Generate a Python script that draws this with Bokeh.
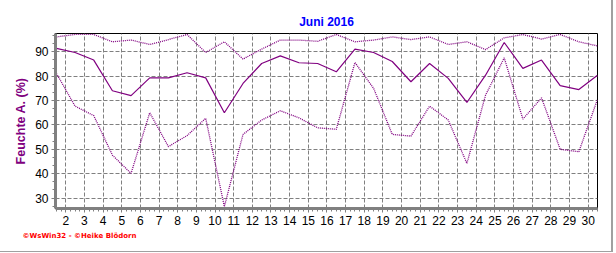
from bokeh.plotting import figure
from bokeh.models import Range1d, SingleIntervalTicker, Title, ColumnDataSource
from bokeh.embed import file_html
from bokeh.resources import INLINE

# ---- data ----
days = list(range(1, 31))
hum_mean = [91.4, 89.7, 86.6, 74.0, 72.0, 79.3, 79.3, 81.4, 79.3, 65.0,
            77.0, 85.2, 88.3, 85.5, 85.2, 81.8, 91.1, 89.7, 86.0, 77.7,
            85.2, 79.1, 69.2, 80.4, 93.8, 83.2, 86.6, 76.1, 74.5, 80.4]
hum_max = [96.1, 97.1, 97.1, 94.1, 94.8, 93.0, 95.0, 97.1, 89.7, 94.1,
           87.0, 91.1, 94.8, 94.8, 94.3, 97.1, 94.1, 94.8, 96.1, 95.0,
           96.1, 93.0, 94.1, 90.9, 95.7, 97.1, 95.2, 97.1, 94.1, 92.4]
hum_min = [81.1, 67.7, 63.8, 47.6, 40.1, 65.0, 51.1, 55.6, 62.7, 26.5,
           56.1, 62.0, 65.8, 62.9, 58.8, 58.2, 85.6, 75.0, 56.1, 55.4,
           67.7, 62.0, 44.2, 72.2, 87.5, 62.4, 71.1, 50.0, 49.0, 70.5]
title_text = "Juni 2016"
y_label = "Feuchte A. (%)"
footer_text = "\u00a9WsWin32 - \u00a9Heike Bl\u00f6dorn"

# values are plotted at mid-day
xpos = [d + 0.5 for d in days]
src = ColumnDataSource(dict(x=xpos, mean=hum_mean, hi=hum_max, lo=hum_min))

W, H = 613, 252
FL, FR, FT, FB = 55, 597, 33, 208

p = figure(width=W, height=H, output_backend="svg", toolbar_location=None,
           x_range=Range1d(1.45, 30.5), y_range=Range1d(25.7, 97.5),
           min_border_left=FL, min_border_right=W - FR,
           min_border_top=FT, min_border_bottom=H - FB)
p.background_fill_color = "white"
p.border_fill_color = "white"
p.outline_line_color = "black"
p.outline_line_width = 1

p.title.text = title_text
p.title.align = "center"
p.title.offset = -17
p.title.text_font = "Liberation Sans"
p.title.text_font_style = "bold"
p.title.text_font_size = "12px"
p.title.text_color = "#0000FF"
p.title.standoff = 9

purple = "#800080"
p.line("x", "hi", source=src, line_color=purple, line_width=1.3, line_dash="1 1")
p.line("x", "lo", source=src, line_color=purple, line_width=1.3, line_dash="1 1")
p.line("x", "mean", source=src, line_color=purple, line_width=1.2)

xt = SingleIntervalTicker(interval=1, num_minor_ticks=4)
yt = SingleIntervalTicker(interval=10, num_minor_ticks=3)
p.xaxis.ticker = xt
p.yaxis.ticker = yt
p.xgrid.ticker = xt
p.ygrid.ticker = yt
for g in (p.xgrid, p.ygrid):
    g.grid_line_color = "#808080"
    g.grid_line_dash = "4 2"
    g.grid_line_width = 1

for ax in (p.xaxis, p.yaxis):
    ax.axis_line_color = "#808080"
    ax.axis_line_width = 3
    ax.major_tick_line_color = "#808080"
    ax.minor_tick_line_color = "#808080"
    ax.major_tick_in = 0
    ax.major_tick_out = 4
    ax.minor_tick_in = 0
    ax.minor_tick_out = 3
    ax.major_label_text_font = "Liberation Sans"
    ax.major_label_text_font_size = "12px"
    ax.major_label_text_color = "black"
    ax.major_label_standoff = 3

p.yaxis.axis_label = y_label
p.yaxis.axis_label_text_font = "Liberation Sans"
p.yaxis.axis_label_text_font_style = "bold"
p.yaxis.axis_label_text_font_size = "12.5px"
p.yaxis.axis_label_text_color = purple
p.yaxis.axis_label_standoff = 4

footer = Title(text=footer_text, align="left", offset=-33,
               text_font="DejaVu Sans", text_font_style="bold",
               text_font_size="7px", text_color="#FF0000", standoff=5)
p.add_layout(footer, "below")

p.styles = {"border-right": "2px solid #a0a0a0", "border-bottom": "1px solid #a0a0a0"}

with open("out.html", "w") as f:
    f.write(file_html(p, INLINE))
